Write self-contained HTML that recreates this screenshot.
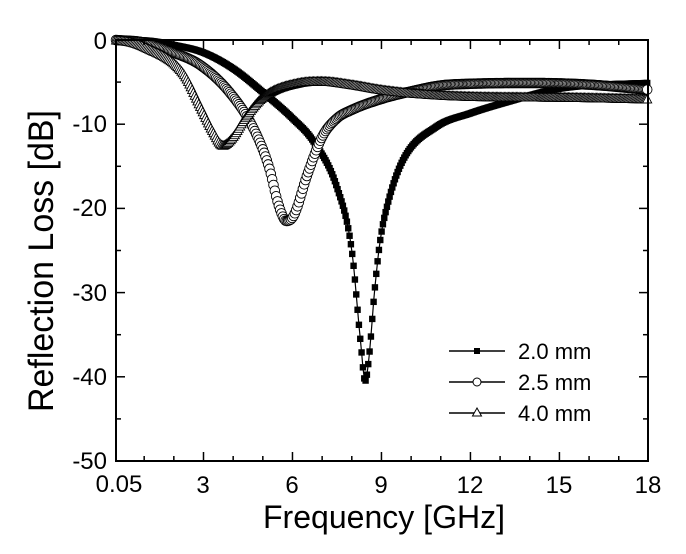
<!DOCTYPE html>
<html><head><meta charset="utf-8"><style>
body{margin:0;background:#fff}
svg{display:block;font-family:"Liberation Sans",Arial,sans-serif}
</style></head><body>
<svg id="s" width="686" height="554" viewBox="0 0 686 554" xmlns="http://www.w3.org/2000/svg">
<g id="data"></g>
<rect x="116" y="40" width="532" height="421" fill="none" stroke="#000" stroke-width="2"/>
<g id="ticks" stroke="#000" stroke-width="1.5"></g>
<g font-size="24" text-anchor="end">
<text x="107" y="49">0</text><text x="107" y="132">-10</text><text x="107" y="216">-20</text>
<text x="107" y="301">-30</text><text x="107" y="385">-40</text><text x="107" y="469">-50</text>
</g>
<g font-size="24" text-anchor="middle">
<text x="119" y="492">0.05</text><text x="203" y="493">3</text><text x="292" y="493">6</text>
<text x="381" y="493">9</text><text x="470" y="493">12</text><text x="559" y="493">15</text><text x="648" y="493">18</text>
</g>
<text x="263" y="528" font-size="32" textLength="242" lengthAdjust="spacingAndGlyphs">Frequency  [GHz]</text>
<text transform="translate(53,412) rotate(-90)" font-size="35" textLength="302" lengthAdjust="spacingAndGlyphs">Reflection Loss [dB]</text>
<g stroke="#000" stroke-width="1.5">
<line x1="449" y1="351" x2="505" y2="351"/><line x1="449" y1="382" x2="505" y2="382"/><line x1="449" y1="413" x2="505" y2="413"/>
</g>
<rect x="474" y="348" width="6" height="6" fill="#000"/>
<circle cx="477" cy="382" r="4" fill="#fff" stroke="#000"/>
<polygon points="477,408 481.5,416 472.5,416" fill="#fff" stroke="#000"/>
<g font-size="22"><text x="518" y="359">2.0 mm</text><text x="518" y="390">2.5 mm</text><text x="518" y="421">4.0 mm</text></g>
</svg>
<script>
function X(f){return 116+(f-0.05)*29.66}
function Y(v){return 40-v*8.42}
function interp(p){
 var n=p.length,xs=p.map(a=>a[0]),ys=p.map(a=>a[1]),d=[],m=[];
 for(var i=0;i<n-1;i++)d.push((ys[i+1]-ys[i])/(xs[i+1]-xs[i]));
 m[0]=d[0];m[n-1]=d[n-2];
 for(i=1;i<n-1;i++){m[i]=(d[i-1]*d[i]<=0)?0:(d[i-1]+d[i])/2;}
 for(i=0;i<n-1;i++){if(d[i]==0){m[i]=m[i+1]=0;continue;}var a=m[i]/d[i],b=m[i+1]/d[i],s=a*a+b*b;if(s>9){var t=3/Math.sqrt(s);m[i]=t*a*d[i];m[i+1]=t*b*d[i];}}
 return function(x){var i=0;while(i<n-2&&x>xs[i+1])i++;var h=xs[i+1]-xs[i],t=(x-xs[i])/h,t2=t*t,t3=t2*t;
  return (2*t3-3*t2+1)*ys[i]+(t3-2*t2+t)*h*m[i]+(-2*t3+3*t2)*ys[i+1]+(t3-t2)*h*m[i+1];};
}
var S=[
 {p:[[0.05,0],[1,-0.05],[2,-0.6],[3,-1.5],[4,-3.4],[5,-6.2],[6,-9.3],[6.7,-12],[7.5,-17.5],[8,-25],[8.3,-36],[8.45,-40.5],[8.6,-37],[8.75,-30.5],[8.95,-24],[9.2,-19.6],[9.72,-14.3],[10.85,-10.3],[12,-8.7],[13.3,-7.3],[14.8,-5.9],[16,-5.4],[18,-5.1]],t:"sq"},
 {p:[[0.05,0],[1,-0.3],[2,-1.5],[2.9,-3],[3.9,-6.3],[4.7,-10.6],[5.2,-15],[5.55,-19.8],[5.8,-21.5],[6.05,-20.8],[6.5,-16],[7,-11.5],[7.5,-9.3],[8,-8.3],[9,-7],[10,-6.1],[11,-5.4],[12,-5.2],[14,-5.1],[16,-5.3],[18,-5.9]],t:"ci"},
 {p:[[0.05,0],[0.5,-0.2],[1,-0.8],[2.3,-3.9],[2.9,-8],[3.3,-10.8],[3.65,-12.5],[4.0,-11.5],[4.4,-9.3],[5,-6.8],[6.2,-5.1],[7,-4.9],[8,-5.3],[9,-5.9],[10,-6.3],[12,-6.7],[15,-6.8],[18,-7]],t:"tr"}
];
var h="";
S.forEach(function(s){
 var f=interp(s.p),pts=[];
 for(var x=0.05;x<=18.001;x+=0.045)pts.push([X(x),Y(f(x))]);
 h+='<polyline fill="none" stroke="#000" stroke-width="1.2" points="'+pts.map(a=>a[0].toFixed(1)+","+a[1].toFixed(1)).join(" ")+'"/>';
 pts.forEach(function(a){var x=a[0],y=a[1];
  if(s.t=="sq")h+='<rect x="'+(x-3.2)+'" y="'+(y-3.2)+'" width="6.4" height="6.4" fill="#000"/>';
  else if(s.t=="ci")h+='<circle cx="'+x+'" cy="'+y+'" r="4.8" fill="#fff" stroke="#000" stroke-width="0.9"/>';
  else h+='<polygon points="'+x+','+(y-4.5)+' '+(x+4.5)+','+(y+4)+' '+(x-4.5)+','+(y+4)+'" fill="#fff" stroke="#000" stroke-width="0.9"/>';
 });
});
document.getElementById("data").innerHTML=h;
var t="";
for(var f=1;f<=17;f++){var x=X(f),L=(f%3==0)?9:5;t+='<line x1="'+x+'" y1="461" x2="'+x+'" y2="'+(461-L)+'"/><line x1="'+x+'" y1="40" x2="'+x+'" y2="'+(40+L)+'"/>';}
for(var v=-45;v<0;v+=5){var y=Y(v),L=(v%10==0)?9:5;t+='<line x1="116" y1="'+y+'" x2="'+(116+L)+'" y2="'+y+'"/><line x1="648" y1="'+y+'" x2="'+(648-L)+'" y2="'+y+'"/>';}
document.getElementById("ticks").innerHTML=t;
</script>
</body></html>
